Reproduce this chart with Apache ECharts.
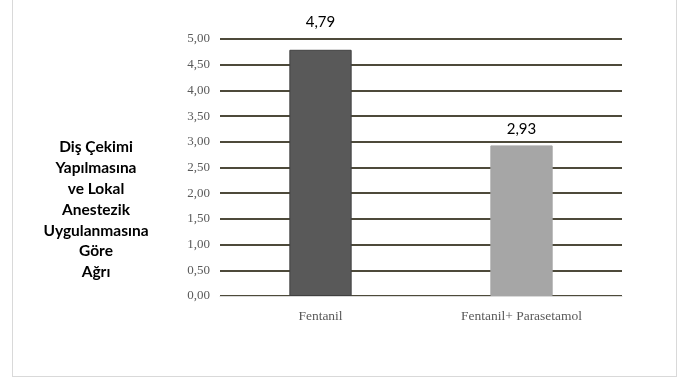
<!DOCTYPE html>
<html>
<head>
<meta charset="utf-8">
<script src="https://cdn.jsdelivr.net/npm/echarts@6/dist/echarts.min.js"></script>
<style>
  html, body { margin: 0; padding: 0; background: #ffffff; }
  #frame {
    position: absolute; left: 12px; top: -4px; width: 665px; height: 381px;
    border: 1px solid #d9d9d9; box-sizing: border-box;
  }
  #chart { position: absolute; left: 0; top: 0; width: 687px; height: 389px; }
</style>
</head>
<body>
<div id="frame"></div>
<div id="chart"></div>
<script>
// Mean pain score per anaesthesia group
const categories = ['Fentanil', 'Fentanil+ Parasetamol'];
const painValues = [4.79, 2.93];
const barColors = ['#595959', '#a6a6a6'];
const yTitleLines = ['Diş Çekimi', 'Yapılmasına', 've Lokal', 'Anestezik', 'Uygulanmasına', 'Göre', 'Ağrı'];

const fmt = v => v.toFixed(2).replace('.', ',');
// label gap above each bar (the tall bar's label sits clear of the top gridline)
const labelGaps = [20, 9];

const chart = echarts.init(document.getElementById('chart'), null, { renderer: 'canvas' });
chart.setOption({
  animation: false,
  grid: { left: 220, right: 65, top: 39, bottom: 93 },
  graphic: [{
    type: 'text',
    x: 96, y: 137,
    style: {
      text: yTitleLines.join('\n'),
      align: 'center',
      verticalAlign: 'top',
      font: 'bold 15.5px Lato, "Open Sans", sans-serif',
      lineHeight: 20.8,
      fill: '#000000'
    }
  }],
  xAxis: {
    type: 'category',
    data: categories,
    axisLine: { show: true, lineStyle: { color: '#d9d9d9', width: 1 } },
    axisTick: { show: false },
    axisLabel: {
      color: '#595959',
      fontFamily: '"Liberation Serif", "Times New Roman", serif',
      fontSize: 13.5,
      margin: 13
    }
  },
  yAxis: {
    type: 'value',
    min: 0, max: 5, interval: 0.5,
    axisLine: { show: false },
    axisTick: { show: false },
    axisLabel: {
      color: '#595959',
      fontFamily: '"Liberation Serif", "Times New Roman", serif',
      fontSize: 13,
      margin: 10,
      formatter: v => fmt(v),
      showMinLabel: true
    },
    splitLine: { lineStyle: { color: '#4d4a3a', width: 2 } }
  },
  series: [{
    type: 'bar',
    barWidth: '31%',
    data: painValues.map((v, i) => ({
      value: v,
      itemStyle: { color: barColors[i], borderColor: i === 0 ? '#404040' : barColors[i], borderWidth: 1 },
      label: { distance: labelGaps[i] }
    })),
    label: {
      show: true,
      position: 'top',
      color: '#000000',
      fontFamily: 'Lato, "Open Sans", sans-serif',
      fontSize: 15,
      formatter: p => fmt(p.value)
    },
    z: 3
  }]
});
</script>
</body>
</html>
